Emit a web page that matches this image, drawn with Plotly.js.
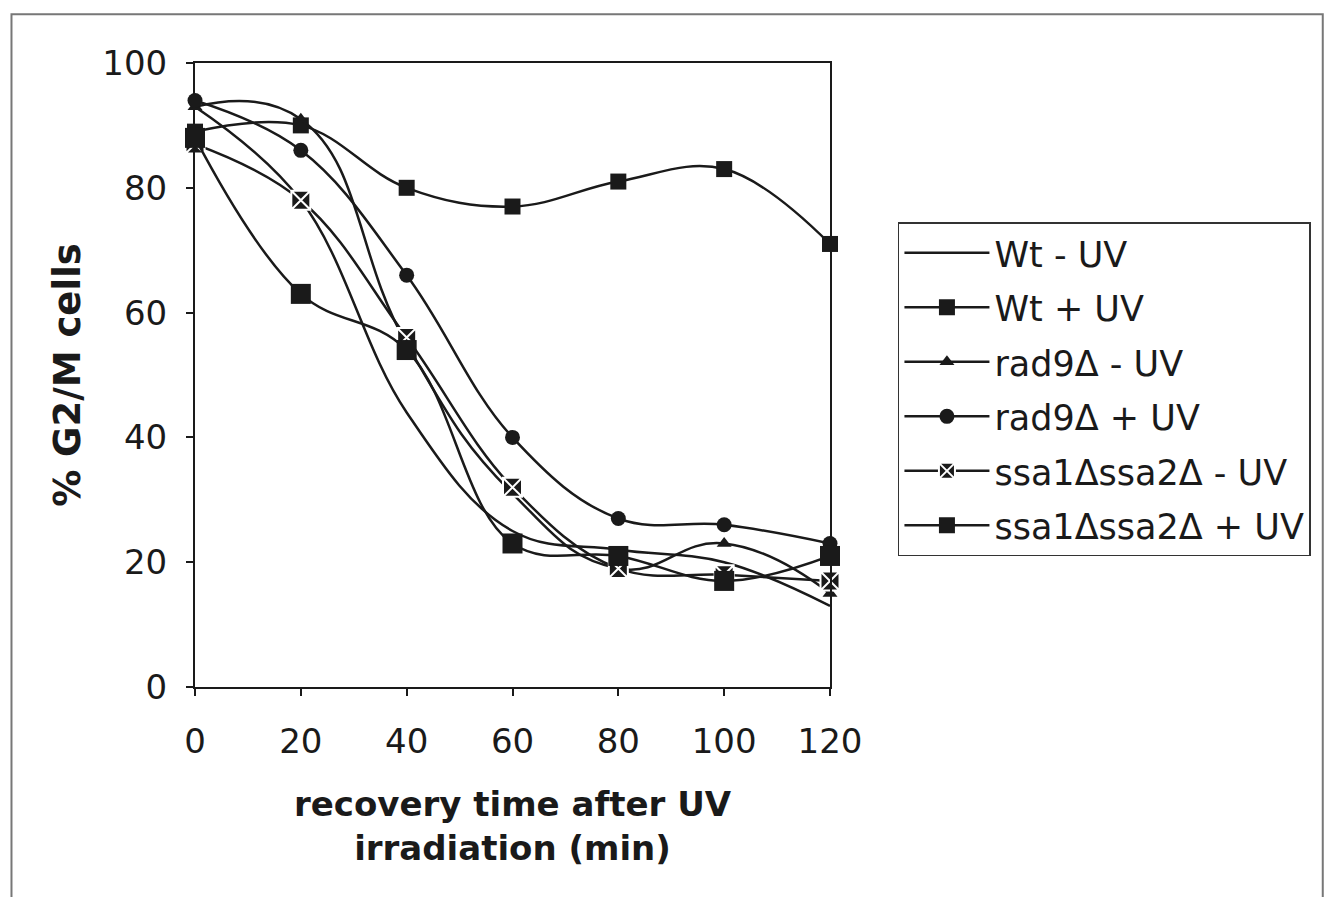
<!DOCTYPE html>
<html>
<head>
<meta charset="utf-8">
<script src="https://cdn.plot.ly/plotly-3.0.1.min.js"></script>
<style>html,body{margin:0;padding:0;background:#fff;}#chart{width:1332px;height:897px;}</style>
</head>
<body>
<div id="chart"></div>
<script>
const times = [0, 20, 40, 60, 80, 100, 120];
const wtMinusUV   = [93, 78, 44, 25, 22, 20, 13];
const wtPlusUV    = [89, 90, 80, 77, 81, 83, 71];
const rad9MinusUV = [93, 91, 55, 31, 19, 23, 15];
const rad9PlusUV  = [94, 86, 66, 40, 27, 26, 23];
const ssaMinusUV  = [87, 78, 56, 32, 19, 18, 17];
const ssaPlusUV   = [88, 63, 54, 23, 21, 17, 21];
const seriesNames = ["Wt - UV", "Wt + UV", "rad9Δ - UV", "rad9Δ + UV", "ssa1Δssa2Δ - UV", "ssa1Δssa2Δ + UV"];
const xTickVals = [0, 20, 40, 60, 80, 100, 120];
const yTickVals = [0, 20, 40, 60, 80, 100];

function tr(name, y, marker, mode, smooth) {
  return {
    x: times, y: y, name: name, type: 'scatter', mode: mode || 'lines+markers',
    line: {color: '#1a1a1a', width: 2.5, shape: 'spline', smoothing: smooth || 1.1},
    marker: marker, cliponaxis: false, legendgroup: name
  };
}
const data = [
  tr(seriesNames[0], wtMinusUV, {size: 1}, 'lines'),
  tr(seriesNames[1], wtPlusUV, {symbol: 'square', size: 16, color: '#1a1a1a'}),
  tr(seriesNames[2], rad9MinusUV, {symbol: 'triangle-up', size: 13, color: '#1a1a1a'}, null, 1.3),
  tr(seriesNames[3], rad9PlusUV, {symbol: 'circle', size: 15, color: '#1a1a1a'}),
  tr(seriesNames[4], ssaMinusUV, {symbol: 'square-x', size: 19, color: '#1a1a1a', line: {color: '#ffffff', width: 2}}),
  tr(seriesNames[5], ssaPlusUV, {symbol: 'square', size: 20, color: '#1a1a1a'})
];

const fam = '"DejaVu Sans", Verdana, sans-serif';
const layout = {
  width: 1332, height: 897,
  margin: {l: 195, r: 502, t: 63, b: 210},
  paper_bgcolor: '#ffffff', plot_bgcolor: '#ffffff',
  font: {family: fam, color: '#1a1a1a', size: 34},
  showlegend: true,
  xaxis: {
    range: [0, 120], tickvals: xTickVals, ticks: 'outside', ticklen: 7, tickwidth: 2, tickcolor: '#1a1a1a',
    showline: true, linecolor: '#1a1a1a', linewidth: 2, mirror: true, showgrid: false, zeroline: false,
    tickfont: {size: 34}, automargin: false, ticklabelstandoff: 16,
    title: {text: 'recovery time after UV<br>irradiation (min)', font: {size: 34, weight: 'bold'}, standoff: 32}
  },
  yaxis: {
    range: [0, 100], tickvals: yTickVals, ticks: 'outside', ticklen: 7, tickwidth: 2, tickcolor: '#1a1a1a',
    showline: true, linecolor: '#1a1a1a', linewidth: 2, mirror: true, showgrid: false, zeroline: false,
    tickfont: {size: 34}, automargin: false, ticklabelstandoff: 12,
    title: {text: '% G2/M cells', font: {size: 37, weight: 'bold'}, standoff: 10}
  },
  legend: {
    x: 1.107, y: 0.745, xanchor: 'left', yanchor: 'top',
    bgcolor: '#ffffff', bordercolor: '#333333', borderwidth: 1.5,
    font: {size: 35}, tracegroupgap: 6, itemwidth: 85
  },
  shapes: [{
    type: 'rect', xref: 'paper', yref: 'paper',
    x0: -0.289, x1: 1.776, y0: -0.4, y1: 1.078,
    line: {color: '#777777', width: 2}, fillcolor: 'rgba(0,0,0,0)', layer: 'below'
  }]
};
Plotly.newPlot('chart', data, layout, {staticPlot: true, displayModeBar: false});
</script>
</body>
</html>
